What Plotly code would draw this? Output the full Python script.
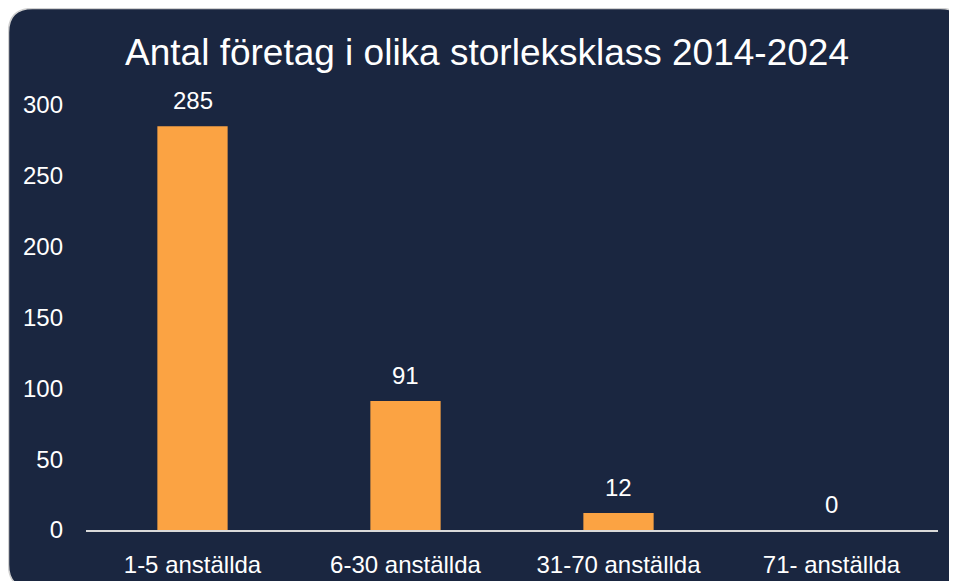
import plotly.graph_objects as go

# Data
categories = ['1-5 anställda', '6-30 anställda', '31-70 anställda', '71- anställda']
antal = [285, 91, 12, 0]
y_ticks = [0, 50, 100, 150, 200, 250, 300]

navy = '#1a2640'
orange = '#fba343'

# page body adds an 8px offset, so layout is laid out 8px up/left
W, H = 957, 581
ml, mr, mt, mb = 78, 27, 97, 59
pw, ph = W - ml - mr, H - mt - mb


def px(x):
    return (x - ml) / pw


def py(y):
    return (H - mb - y) / ph


# rounded panel path in paper coords
def panel_path(x0, y0, x1, y1, r):
    pts = [
        f'M {px(x0 + r)} {py(y0)}',
        f'L {px(x1 - r)} {py(y0)}',
        f'Q {px(x1)} {py(y0)} {px(x1)} {py(y0 + r)}',
        f'L {px(x1)} {py(y1 - r)}',
        f'Q {px(x1)} {py(y1)} {px(x1 - r)} {py(y1)}',
        f'L {px(x0 + r)} {py(y1)}',
        f'Q {px(x0)} {py(y1)} {px(x0)} {py(y1 - r)}',
        f'L {px(x0)} {py(y0 + r)}',
        f'Q {px(x0)} {py(y0)} {px(x0 + r)} {py(y0)}',
        'Z',
    ]
    return ' '.join(pts)


fig = go.Figure()

fig.add_trace(go.Bar(x=categories, y=antal, marker=dict(color=orange, line=dict(width=0))))

# value labels above the bars
for c, v in zip(categories, antal):
    fig.add_annotation(x=c, y=v, text=str(v), showarrow=False, yanchor='bottom',
                       yshift=10, font=dict(size=24, color='white'))

fig.add_shape(type='path', xref='paper', yref='paper', layer='below',
              path=panel_path(0.5, 0.5, 956.5, 580.5, 24),
              fillcolor=navy, line=dict(color='#d0d0d0', width=1.5))

fig.update_layout(
    width=W, height=H,
    margin=dict(l=ml, r=mr, t=mt, b=mb),
    paper_bgcolor='white', plot_bgcolor='rgba(0,0,0,0)',
    font=dict(family='Liberation Sans, Arial', color='white', size=24),
    title=dict(text='Antal företag i olika storleksklass 2014-2024',
               x=479 / W, xanchor='center', y=1 - 44 / H, yanchor='middle',
               font=dict(size=37, color='white')),
    bargap=0.67, showlegend=False,
)
fig.update_yaxes(range=[0, 300], tickvals=y_ticks, showgrid=False, zeroline=False,
                 showline=False, ticklabelstandoff=22, tickfont=dict(size=24))
fig.update_xaxes(showline=True, linecolor='#d9d9d9', linewidth=2, ticks='',
                 ticklabelstandoff=12, tickfont=dict(size=24))

fig.write_html('out.html')
